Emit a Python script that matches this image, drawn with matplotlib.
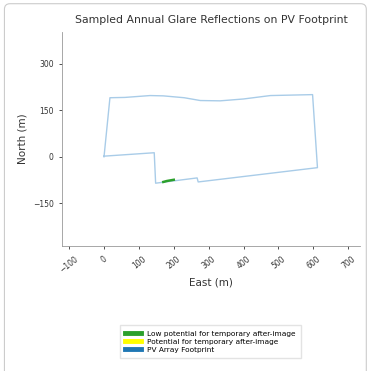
import matplotlib.pyplot as plt
from matplotlib.patches import FancyBboxPatch
from matplotlib.lines import Line2D

# PV array footprint outline (east, north in m)
foot_e = [0, 17, 60, 132, 170, 230, 276, 333, 400, 477, 598, 612, 270, 267, 148, 144, 0]
foot_n = [0, 190, 191, 197, 196, 190, 181, 180, 186, 197, 200, -35, -81, -68, -85, 13, 2]

# glare reflection points (low potential)
green_e = [170, 180, 190, 200]
green_n = [-81, -78, -76, -74]

legend_labels = ["Low potential for temporary after-image",
                 "Potential for temporary after-image",
                 "PV Array Footprint"]
legend_colors = ["#2ca02c", "#ffff00", "#1f77b4"]

fig = plt.figure(figsize=(3.70, 3.71), dpi=100)
ax = fig.add_axes([0.168, 0.337, 0.805, 0.578])

ax.plot(foot_e, foot_n, color="#a9cce8", lw=1.0)
ax.plot(green_e, green_n, color="#2ca02c", lw=1.8)

ax.set_xlim(-120, 734)
ax.set_ylim(-287, 403)
ax.set_xticks(range(-100, 701, 100))
ax.set_yticks([-150, 0, 150, 300])
ax.tick_params(labelsize=5.5, length=2.5, width=0.6, colors="#333333")
for lab in ax.get_xticklabels():
    lab.set_rotation(38)
ax.spines["top"].set_visible(False)
ax.spines["right"].set_visible(False)
for s in ("left", "bottom"):
    ax.spines[s].set_color("#999999")
    ax.spines[s].set_linewidth(0.6)

ax.set_title("Sampled Annual Glare Reflections on PV Footprint", fontsize=7.8, color="#333333", pad=6)
ax.set_xlabel("East (m)", fontsize=7.5, color="#333333", labelpad=2)
ax.set_ylabel("North (m)", fontsize=7.5, color="#333333", labelpad=4)

handles = [Line2D([0], [0], color=c, lw=3.5) for c in legend_colors]
fig.legend(handles, legend_labels, loc="center", bbox_to_anchor=(0.568, 0.079),
           fontsize=5.3, frameon=True, handlelength=2.2, borderpad=0.7,
           labelspacing=0.25, edgecolor="#dddddd", fancybox=False)

frame = FancyBboxPatch((0.012, -0.05), 0.978, 1.04, boxstyle="round,pad=0,rounding_size=0.015",
                       transform=fig.transFigure, fill=False, edgecolor="#cccccc", lw=0.8)
fig.patches.append(frame)

fig.savefig("out.png", dpi=100)
